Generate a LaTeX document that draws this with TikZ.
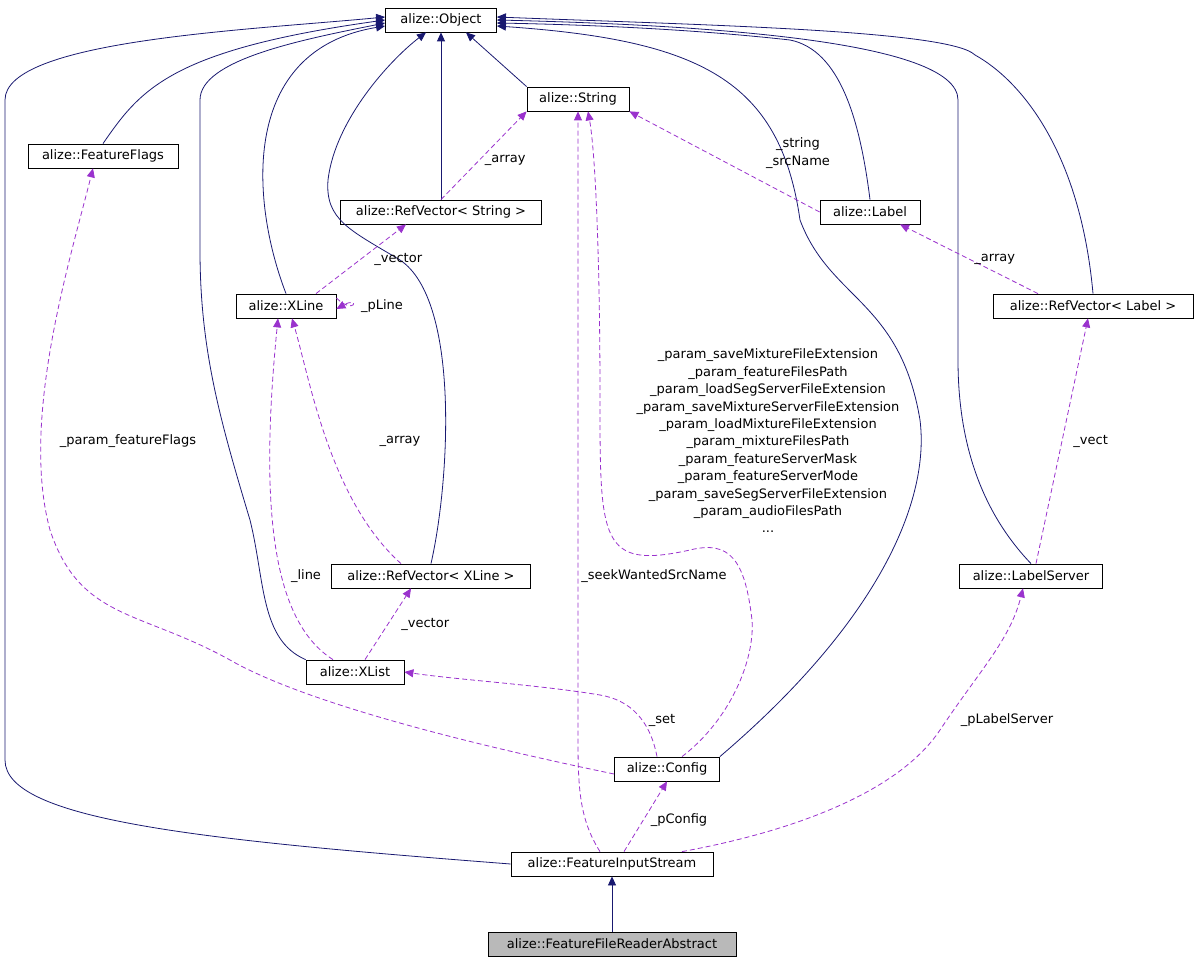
\documentclass[tikz,border=0pt]{standalone}
\usepackage{fontspec}
\setmainfont{DejaVu Sans}
\usetikzlibrary{arrows.meta}
\definecolor{navy}{HTML}{191970}
\definecolor{purp}{HTML}{9A32CD}
\begin{document}
\begin{tikzpicture}[x=1pt,y=-1pt,
 box/.style={draw,fill=white,inner sep=0pt,minimum height=24pt,font=\fontsize{13}{15}\selectfont,line width=0.8pt},
 inh/.style={draw=navy,line width=0.8pt,-{Triangle[length=9pt,width=8pt,fill=navy]}},
 use/.style={draw=purp,line width=0.8pt,dash pattern=on 5pt off 3pt,-{Triangle[length=9pt,width=8pt,fill=purp]}},
 lab/.style={font=\fontsize{13}{17.4}\selectfont,align=center,inner sep=1pt}]
\useasboundingbox (0,0) rectangle (1197,965);
\node[box,minimum width=111pt] (obj) at (441,20) {alize::Object};
\node[box,minimum width=102pt] (str) at (578,99) {alize::String};
\node[box,minimum width=150pt] (ff) at (103,156) {alize::FeatureFlags};
\node[box,minimum width=201pt] (rvs) at (441,212) {alize::RefVector< String >};
\node[box,minimum width=100pt] (lab) at (870,212) {alize::Label};
\node[box,minimum width=100pt] (xl) at (286,306) {alize::XLine};
\node[box,minimum width=200pt] (rvl) at (1093,306) {alize::RefVector< Label >};
\node[box,minimum width=199pt] (rvx) at (431,576) {alize::RefVector< XLine >};
\node[box,minimum width=143pt] (ls) at (1031,576) {alize::LabelServer};
\node[box,minimum width=98pt] (xls) at (355,672) {alize::XList};
\node[box,minimum width=105pt] (cfg) at (667,769) {alize::Config};
\node[box,minimum width=202pt] (fis) at (612,864) {alize::FeatureInputStream};
\node[box,minimum width=248pt,fill=gray!55] (ffr) at (612,944) {alize::FeatureFileReaderAbstract};
% inheritance
\draw[inh] (ff.north) .. controls (140,90) and (170,50) .. (obj.west);
\draw[inh] (xl.north) .. controls (250,200) and (240,50) .. ([yshift=-6pt]obj.west);
\draw[inh] (xls.north west) .. controls (260,640) and (265,580) .. (250,520) .. controls (220,420) and (200,350) .. (200,250) -- (200,100) .. controls (200,60) and (300,40) .. ([yshift=-3pt]obj.west);
\draw[inh] (fis.west) .. controls (200,840) and (5,820) .. (5,760) -- (5,100) .. controls (5,40) and (250,30) .. ([yshift=3pt]obj.west);
\draw[inh] (rvs.north) -- (obj.south);
\draw[inh] (str.north west) -- ([xshift=25pt]obj.south);
\draw[inh] (rvx.north) .. controls (450,480) and (460,300) .. (400,260) .. controls (350,230) and (325,220) .. (328,180) .. controls (335,120) and (390,60) .. ([xshift=-15pt]obj.south);
\draw[inh] (cfg.north east) .. controls (880,620) and (930,500) .. (920,420) .. controls (900,300) and (830,300) .. (800,220) .. controls (780,80) and (700,40) .. ([yshift=-6pt]obj.east);
\draw[inh] (lab.north) .. controls (860,120) and (840,50) .. (790,40) .. controls (700,30) and (600,25) .. ([yshift=-3pt]obj.east);
\draw[inh] (ls.north) .. controls (970,500) and (958,420) .. (958,360) -- (958,100) .. controls (958,40) and (700,25) .. (obj.east);
\draw[inh] (rvl.north) .. controls (1080,150) and (1020,80) .. (975,55) .. controls (950,30) and (700,25) .. ([yshift=3pt]obj.east);
\draw[inh] (ffr.north) -- (fis.south);
% usage
\draw[use] (rvs.north) -- (str.south west) node[lab,pos=0.45,right=4pt] {\_array};
\draw[use] (lab.west) -- (str.south east);
\node[lab] at (798,153) {\_string\\\_srcName};
\draw[use] ([xshift=30pt]xl.north) -- ([xshift=-35pt]rvs.south) node[lab,pos=0.5,right=12pt] {\_vector};
\draw[use] ([yshift=8pt]xl.east) .. controls (355,316) and (360,296) .. ([yshift=-3pt]xl.east);
\node[lab] at (382,306) {\_pLine};
\draw[use] ([xshift=-55pt]rvl.north) -- ([xshift=30pt]lab.south) node[lab,pos=0.5,right=4pt] {\_array};
\draw[use] ([xshift=-30pt]rvx.north) .. controls (330,500) and (310,380) .. ([xshift=6pt]xl.south);
\node[lab] at (400,441) {\_array};
\draw[use] ([xshift=-22pt]xls.north) .. controls (270,620) and (260,500) .. ([xshift=-8pt]xl.south);
\node[lab] at (306,576) {\_line};
\draw[use] ([xshift=10pt]xls.north) -- ([xshift=-20pt]rvx.south) node[lab,pos=0.5,right=12pt] {\_vector};
\draw[use] ([xshift=-10pt]cfg.north) .. controls (650,720) and (630,700) .. (600,695) .. controls (540,685) and (460,680) .. (xls.east);
\node[lab] at (662,720) {\_set};
\draw[use] ([yshift=-5pt]cfg.west) .. controls (450,740) and (300,700) .. (230,660) .. controls (140,610) and (80,620) .. (50,530) .. controls (20,420) and (70,260) .. ([xshift=-10pt]ff.south);
\node[lab] at (128,441) {\_param\_featureFlags};
\draw[use] ([xshift=15pt]cfg.north) .. controls (730,720) and (755,660) .. (752,620) .. controls (745,560) and (730,540) .. (690,550) .. controls (600,570) and (600,540) .. (600,400) .. controls (600,250) and (595,150) .. ([xshift=10pt]str.south);
\node[lab] at (768,441) {\_param\_saveMixtureFileExtension\\\_param\_featureFilesPath\\\_param\_loadSegServerFileExtension\\\_param\_saveMixtureServerFileExtension\\\_param\_loadMixtureFileExtension\\\_param\_mixtureFilesPath\\\_param\_featureServerMask\\\_param\_featureServerMode\\\_param\_saveSegServerFileExtension\\\_param\_audioFilesPath\\...};
\draw[use] ([xshift=-12pt]fis.north) .. controls (580,820) and (578,790) .. (578,740) -- (str.south);
\node[lab] at (654,576) {\_seekWantedSrcName};
\draw[use] ([xshift=12pt]fis.north) -- (cfg.south) node[lab,pos=0.45,right=6pt] {\_pConfig};
\draw[use] ([xshift=70pt]fis.north) .. controls (800,830) and (900,790) .. (940,730) .. controls (980,670) and (1010,640) .. ([xshift=-8pt]ls.south);
\node[lab] at (1007,720) {\_pLabelServer};
\draw[use] ([xshift=5pt]ls.north) -- ([xshift=-5pt]rvl.south) node[lab,pos=0.5,right=10pt] {\_vect};
\end{tikzpicture}
\end{document}
